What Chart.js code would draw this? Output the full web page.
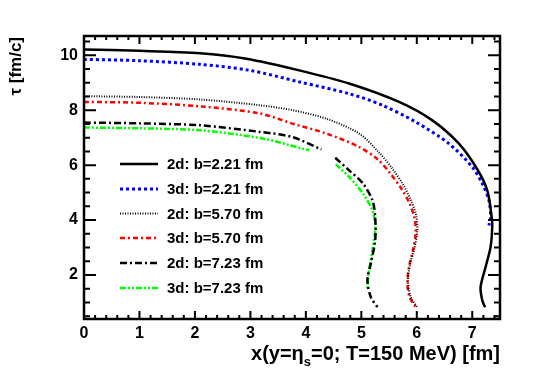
<!DOCTYPE html>
<html>
<head>
<meta charset="utf-8">
<script src="https://cdn.jsdelivr.net/npm/chart.js@4.4.1/dist/chart.umd.min.js"></script>
<style>
  html, body { margin: 0; padding: 0; background: #fff; }
  #wrap { width: 557px; height: 377px; }
</style>
</head>
<body>
<div id="wrap"><canvas id="chart"></canvas></div>
<script>
// tick labels
const xTickLabels = [0, 1, 2, 3, 4, 5, 6, 7];
const yTickLabels = [2, 4, 6, 8, 10];

// series names
const seriesNames = [
    "2d: b=2.21 fm",
    "3d: b=2.21 fm",
    "2d: b=5.70 fm",
    "3d: b=5.70 fm",
    "2d: b=7.23 fm",
    "3d: b=7.23 fm",
];

// freeze-out surfaces, x [fm] and tau [fm/c] (null = gap in curve)
const x2d221 = [0, 1.0, 2.09, 2.9, 3.88, 4.78, 5.68, 6.28, 6.76, 7.09, 7.27, 7.35, 7.36, 7.33, 7.24, 7.15, 7.18, 7.23];
const tau2d221 = [10.21, 10.16, 10.07, 9.88, 9.45, 8.97, 8.3, 7.63, 6.78, 5.85, 5.08, 4.11, 3.75, 3.02, 2.29, 1.56, 1.08, 0.83];

const x3d221 = [0, 1.0, 2.09, 2.99, 3.88, 4.78, 5.38, 5.98, 6.58, 7.0, 7.18, 7.3, 7.33, 7.3];
const tau3d221 = [9.85, 9.8, 9.67, 9.45, 9.03, 8.6, 8.18, 7.57, 6.78, 5.93, 5.33, 4.72, 4.11, 3.8];

const x2d570 = [0, 1.0, 2.09, 3.17, 3.76, 4.37, 4.96, 5.3, 5.55, 5.75, 5.9, 5.99, 6.01, 5.96, 5.88, 5.84, 5.89, 6.01];
const tau2d570 = [8.51, 8.48, 8.39, 8.18, 8.0, 7.69, 7.15, 6.5, 5.9, 5.3, 4.7, 4.15, 3.6, 3.0, 2.4, 1.8, 1.2, 0.83];

const x3d570 = [0, 1.0, 2.09, 3.17, 3.76, 4.37, 4.96, 5.3, 5.52, 5.72, 5.87, 5.96, 5.98, 5.93, 5.86, 5.83, 5.87, 5.98];
const tau3d570 = [8.3, 8.27, 8.14, 7.88, 7.51, 7.15, 6.66, 6.2, 5.7, 5.15, 4.6, 4.05, 3.5, 2.9, 2.3, 1.7, 1.2, 0.83];

const x2d723 = [0, 1.0, 2.09, 3.17, 3.76, 4.28, 4.4, 4.53, 4.78, 5.03, 5.2, 5.25, 5.25, 5.17, 5.11, 5.17, 5.29];
const tau2d723 = [7.55, 7.52, 7.45, 7.21, 7.02, 6.57, null, 6.27, 5.81, 5.33, 4.72, 4.11, 3.26, 2.41, 1.81, 1.2, 0.83];

const x3d723 = [0, 1.0, 2.09, 3.22, 3.94, 4.06, 4.3, 4.54, 4.78, 5.03, 5.2, 5.25, 5.2, 5.13, 5.11];
const tau3d723 = [7.37, 7.34, 7.27, 6.97, 6.6, 6.55, null, 6.03, 5.57, 4.96, 4.35, 3.75, 2.9, 2.05, 1.5];

const FONT = "'Liberation Sans', Arial, sans-serif";

function toPoints(xs, ys) {
    return xs.map((v, i) => ({ x: v, y: ys[i] }));
}

function makeSet(i, xs, ys, color, width, dash) {
    return {
        label: seriesNames[i],
        data: toPoints(xs, ys),
        borderColor: color,
        borderWidth: width,
        borderDash: dash,
        pointRadius: 0,
        showLine: true,
        fill: false,
        tension: 0.3,
        spanGaps: false,
    };
}

// frame, inner ticks, legend and axis titles
const plotFrame = {
    id: "plotFrame",
    afterDatasetsDraw(chart) {
        const { ctx, chartArea: a } = chart;
        const xs = chart.scales.x;
        const ys = chart.scales.y;
        ctx.save();

        // ticks
        ctx.strokeStyle = "#000";
        ctx.lineWidth = 2;
        ctx.beginPath();
        for (let i = 0; i <= 37; i++) {
            const px = xs.getPixelForValue(i * 0.2);
            const len = i % 5 === 0 ? 8 : 4;
            ctx.moveTo(px, a.bottom);
            ctx.lineTo(px, a.bottom - len);
            ctx.moveTo(px, a.top);
            ctx.lineTo(px, a.top + len);
        }
        for (let i = 1; i <= 21; i++) {
            const py = ys.getPixelForValue(i * 0.5);
            const len = i % 4 === 0 ? 12 : 6;
            ctx.moveTo(a.left, py);
            ctx.lineTo(a.left + len, py);
            ctx.moveTo(a.right, py);
            ctx.lineTo(a.right - len, py);
        }
        ctx.stroke();

        // frame
        ctx.lineWidth = 2.5;
        ctx.strokeRect(a.left, a.top, a.right - a.left, a.bottom - a.top);

        // legend
        const rows = [164, 189, 213.5, 238, 263, 288];
        chart.data.datasets.forEach((ds, i) => {
            const y = rows[i];
            ctx.save();
            ctx.strokeStyle = ds.borderColor;
            ctx.lineWidth = ds.borderWidth;
            ctx.setLineDash(ds.borderDash || []);
            ctx.beginPath();
            ctx.moveTo(120, y);
            ctx.lineTo(158, y);
            ctx.stroke();
            ctx.restore();
            ctx.fillStyle = "#000";
            ctx.font = "bold 15px " + FONT;
            ctx.textAlign = "left";
            ctx.textBaseline = "middle";
            ctx.fillText(ds.label, 167, y + 1);
        });

        // x title with subscript
        const parts = [
            ["x(y=\u03b7", 0, "bold 20px "],
            ["s", 6, "bold 13px "],
            ["=0; T=150 MeV) [fm]", 0, "bold 20px "],
        ];
        let total = 0;
        parts.forEach(p => { ctx.font = p[2] + FONT; total += ctx.measureText(p[0]).width; });
        let cx = a.right - total;
        ctx.textAlign = "left";
        ctx.textBaseline = "alphabetic";
        parts.forEach(p => {
            ctx.font = p[2] + FONT;
            ctx.fillText(p[0], cx, 360 + p[1]);
            cx += ctx.measureText(p[0]).width;
        });

        // y title
        ctx.translate(16, 37);
        ctx.rotate(-Math.PI / 2);
        ctx.font = "bold 17px " + FONT;
        ctx.textAlign = "right";
        ctx.textBaseline = "middle";
        ctx.fillText("\u03c4 [fm/c]", 0, 0);

        ctx.restore();
    },
};

document.addEventListener("DOMContentLoaded", function () {
    const datasets = [
        makeSet(0, x2d221, tau2d221, "#000000", 2.5, []),
        makeSet(1, x3d221, tau3d221, "#0000ff", 3, [3, 3]),
        makeSet(2, x2d570, tau2d570, "#000000", 2, [1, 1.5]),
        makeSet(3, x3d570, tau3d570, "#ff0000", 2.5, [5, 3, 2, 3]),
        makeSet(4, x2d723, tau2d723, "#000000", 2.5, [7, 3, 2, 3]),
        makeSet(5, x3d723, tau3d723, "#00ff00", 2.5, [6, 2, 2, 2, 2, 2]),
    ];

    const tickFont = { family: FONT, size: 16, weight: "bold" };

    new Chart(document.getElementById("chart"), {
        type: "scatter",
        data: { datasets: datasets },
        options: {
            responsive: true,
            maintainAspectRatio: false,
            animation: false,
            layout: { padding: { top: 36, right: 57, left: 0, bottom: 0 } },
            plugins: {
                legend: { display: false },
                tooltip: { enabled: false },
            },
            scales: {
                x: {
                    type: "linear",
                    min: 0,
                    max: 7.5,
                    grid: { display: false, drawTicks: false },
                    border: { display: false },
                    ticks: { color: "#000", font: tickFont, padding: 5, maxRotation: 0 },
                    afterBuildTicks: s => { s.ticks = xTickLabels.map(v => ({ value: v })); },
                    afterFit: s => { s.height = 58; },
                },
                y: {
                    type: "linear",
                    min: 0.4,
                    max: 10.7,
                    grid: { display: false, drawTicks: false },
                    border: { display: false },
                    ticks: { color: "#000", font: tickFont, padding: 6 },
                    afterBuildTicks: s => { s.ticks = yTickLabels.map(v => ({ value: v })); },
                    afterFit: s => { s.width = 84; },
                },
            },
        },
        plugins: [plotFrame],
    });
});
</script>
</body>
</html>
